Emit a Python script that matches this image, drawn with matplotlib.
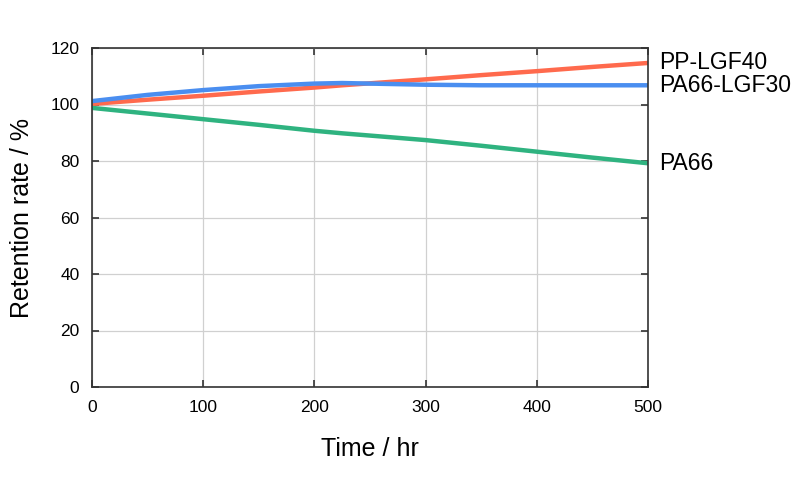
import numpy as np
import matplotlib
matplotlib.use('Agg')
import matplotlib.pyplot as plt

plt.rcParams['font.family'] = ['Liberation Sans', 'DejaVu Sans']

# data
time = [0, 50, 100, 150, 200, 225, 250, 300, 350, 400, 450, 500]
pp_lgf40 = [100.2, 101.7, 103.1, 104.6, 106.0, 106.8, 107.5, 108.9, 110.4, 111.8, 113.3, 114.7]
pa66_lgf30 = [101.2, 103.4, 105.1, 106.5, 107.4, 107.6, 107.4, 107.0, 106.8, 106.8, 106.8, 106.8]
pa66 = [98.8, 96.8, 94.8, 92.8, 90.7, 89.8, 89.0, 87.4, 85.4, 83.3, 81.2, 79.2]

series = [
    ('PP-LGF40', pp_lgf40, '#ff6a4d'),
    ('PA66-LGF30', pa66_lgf30, '#4a8ef0'),
    ('PA66', pa66, '#2fb380'),
]

xticks = [0, 100, 200, 300, 400, 500]
yticks = [0, 20, 40, 60, 80, 100, 120]

fig = plt.figure(figsize=(8, 5), dpi=100)
ax = fig.add_axes([0.115, 0.226, 0.695, 0.678])

for name, vals, col in series:
    ax.plot(time, vals, color=col, lw=3.2, solid_capstyle='butt')
    ax.annotate(name, xy=(time[-1], vals[-1]), xytext=(8, 0),
                textcoords='offset points', va='center', ha='left',
                fontsize=16.5, annotation_clip=False)

ax.set_xlim(0, 500)
ax.set_ylim(0, 120)
ax.set_xticks(xticks)
ax.set_yticks(yticks)
ax.grid(True, color='#d0d0d0', lw=0.9)
ax.set_axisbelow(True)
ax.tick_params(direction='in', length=5, width=1.2, top=True, right=True,
               labelsize=12.5, pad=9, color='#333333')
for s in ax.spines.values():
    s.set_linewidth(1.2)
    s.set_color('#333333')

ax.set_xlabel('Time / hr', fontsize=18, labelpad=16)
ax.set_ylabel('Retention rate / %', fontsize=18, labelpad=12)

fig.savefig('out.png', dpi=100)
